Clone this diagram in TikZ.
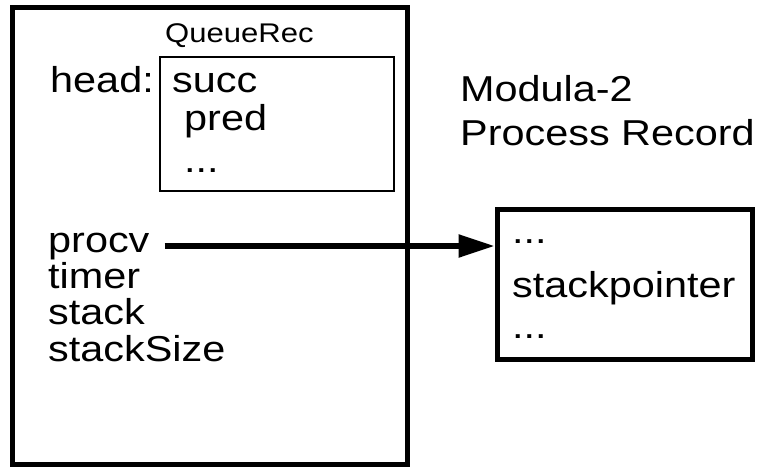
\documentclass[tikz,border=0pt]{standalone}
\usepackage{fontspec}
\setmainfont{Liberation Sans}[FakeStretch=1.15]
\usetikzlibrary{arrows.meta,positioning}

\tikzset{
  field/.style={font=\fontsize{36}{37}\selectfont, inner sep=0pt, anchor=base west},
  recbox/.style={draw, line width=5pt, inner sep=0pt},
  thinbox/.style={draw, line width=2pt, inner sep=0pt}
}

\begin{document}
\begin{tikzpicture}[x=1pt, y=-1pt]
    \useasboundingbox (0,0) rectangle (765,468);
    % boxes
    \node [recbox, minimum width=395pt, minimum height=456pt] (Q) at (209.5,236) {};
    \node [thinbox, minimum width=234pt, minimum height=134pt] (H) at (277,124) {};
    \node [recbox, minimum width=255pt, minimum height=150pt] (P) at (624.5,284) {};

    \node [field, font=\fontsize{27}{29}\selectfont] (title) at (165,43) {QueueRec};
    \node [field] (head) at (50,93) {head:};
    \node [field] (succ) at (172,93) {succ};
    \node [field] (pred) at (184,130) {pred};
    \node [field] (hdots) at (184,172) {...};

    \node [field] (mod) at (460,102) {Modula-2};
    \node [field] (prec) at (460,145) {Process Record};

    \node [field] (procv) at (48,252) {procv};
    \node [field] (timer) at (48,288) {timer};
    \node [field] (stack) at (48,324) {stack};
    \node [field] (ssize) at (48,361) {stackSize};

    \node [field] (pdots) at (512,243) {...};
    \node [field] (sp) at (512,297) {stackpointer};
    \node [field] (pdots2) at (512,338) {...};

    \coordinate (from) at ([xshift=15pt,yshift=6pt]procv.base east);
    \draw [line width=5.5pt, -{Triangle[length=36pt,width=22pt]}] (from) -- (from -| P.west);
\end{tikzpicture}
\end{document}
